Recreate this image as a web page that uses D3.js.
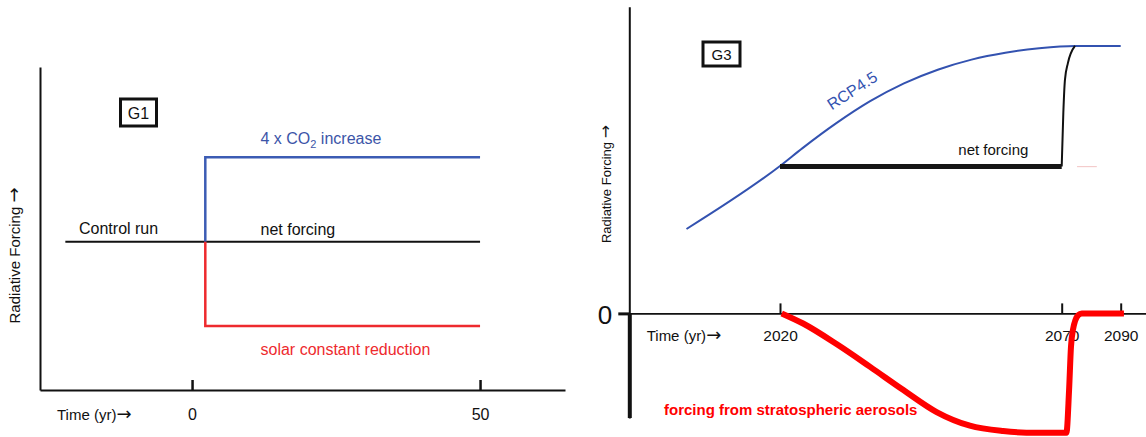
<!DOCTYPE html>
<html><head><meta charset="utf-8">
<script src="https://cdn.jsdelivr.net/npm/d3@7"></script>
<style>
body{margin:0;background:#fff}
svg{display:block;background:#fff}
text{font-family:"Liberation Sans",Arial,Helvetica,sans-serif}
.arr{font-family:"DejaVu Sans",sans-serif}
</style>
</head><body>
<svg id="c" width="1146" height="437"></svg>
<script>
// ---------- Panel G1 (schematic, arbitrary units) ----------
const g1Ticks = [0, 50];
const g1TickLabels = ["0", "50"];
const g1ControlYears = [-22, 50];
const g1ControlValues = [0, 0];
const g1Co2Years = [2.3, 2.3, 50];
const g1Co2Values = [0, 1, 1];
const g1SolarYears = [2.3, 2.3, 50];
const g1SolarValues = [0, -1, -1];

// ---------- Panel G3 (forcing, W/m2 approx.) ----------
const g3Ticks = [2020, 2070, 2090];
const g3TickLabels = ["2020", "2070", "2090"];
const rcpYears  = [2003.4, 2020, 2024, 2030, 2036, 2042, 2048, 2054, 2060,  2066, 2074.5, 2090];
const rcpValues = [1.42,   2.48, 2.78, 3.2,  3.57, 3.87, 4.1,  4.27, 4.385, 4.46, 4.5,    4.5];
const netYears  = [2020, 2070];
const netValues = [2.47, 2.47];
const reboundYears  = [2070, 2070.55, 2071.1, 2072.1, 2074.5];
const reboundValues = [2.47, 3.37,    3.93,   4.21,   4.5];
const faintYears  = [2075.2, 2081.9];
const faintValues = [2.47, 2.47];
const aerosolYears  = [2020.3, 2024.1, 2030.1, 2036, 2041.9, 2047.8, 2053.7, 2059.6, 2065.6, 2071.6, 2072.5, 2073.15, 2073.8, 2075.6, 2076.8, 2091.1];
const aerosolValues = [0,      -0.17,  -0.52,  -0.9, -1.29,  -1.66,  -1.89,  -1.98,  -2.01,  -2.01,  -1.29,  -0.56,   -0.28,  -0.03,  0,      0];

const zip = (xs, ys) => xs.map((x, i) => [x, ys[i]]);

const svg = d3.select("#c");

function arrowText(sel, label, arrowSize) {
  sel.append("tspan").text(label);
  const a = sel.append("tspan").attr("class", "arr").text("\u2192");
  if (arrowSize) a.attr("font-size", arrowSize);
}

// ===================== G1 =====================
const xL = d3.scaleLinear().domain([-26.4, 64.75]).range([40, 565]);
const yL = d3.scaleLinear().domain([-1.757, 2.07]).range([390, 67]);
const lineL = d3.line().x(d => xL(d[0])).y(d => yL(d[1]));

const gL = svg.append("g");

// x axis
const axL = gL.append("g").attr("transform", `translate(0,${yL.range()[0]})`)
  .call(d3.axisBottom(xL).tickValues(g1Ticks).tickFormat((d, i) => g1TickLabels[i])
    .tickSizeInner(-10).tickSizeOuter(0).tickPadding(18.6));
axL.attr("font-family", null).attr("font-size", null);
axL.select(".domain").attr("stroke", "#111").attr("stroke-width", 2);
axL.selectAll(".tick line").attr("stroke", "#111").attr("stroke-width", 2.5);
axL.selectAll(".tick text").attr("font-size", 16).attr("fill", "#111");

// y axis
const ayL = gL.append("g").attr("transform", `translate(${xL.range()[0]},0)`)
  .call(d3.axisLeft(yL).tickValues([]).tickSizeOuter(0));
ayL.select(".domain").attr("stroke", "#111").attr("stroke-width", 2);

// lines
gL.append("path").datum(zip(g1ControlYears, g1ControlValues)).attr("d", lineL)
  .attr("fill", "none").attr("stroke", "#111").attr("stroke-width", 2);
gL.append("path").datum(zip(g1Co2Years, g1Co2Values)).attr("d", lineL)
  .attr("fill", "none").attr("stroke", "#3c5cb4").attr("stroke-width", 2.5);
gL.append("path").datum(zip(g1SolarYears, g1SolarValues)).attr("d", lineL)
  .attr("fill", "none").attr("stroke", "#ee2a2e").attr("stroke-width", 2.5);

// labels
gL.append("rect").attr("x", 120.5).attr("y", 99).attr("width", 36).attr("height", 27)
  .attr("fill", "#fff").attr("stroke", "#111").attr("stroke-width", 3);
gL.append("text").attr("x", 138.5).attr("y", 118.5).attr("text-anchor", "middle")
  .attr("font-size", 16).attr("fill", "#111").text("G1");

const co2t = gL.append("text").attr("x", 260.5).attr("y", 143.5).attr("font-size", 16).attr("fill", "#3c55a8");
co2t.append("tspan").text("4 x CO");
co2t.append("tspan").attr("font-size", 11).attr("dy", 4).text("2");
co2t.append("tspan").attr("dy", -4).text(" increase");

gL.append("text").attr("x", 79).attr("y", 234).attr("font-size", 16).attr("fill", "#111").text("Control run");
gL.append("text").attr("x", 260.5).attr("y", 235).attr("font-size", 16).attr("fill", "#111").text("net forcing");
gL.append("text").attr("x", 260.5).attr("y", 354.5).attr("font-size", 16).attr("fill", "#ee2a2e").text("solar constant reduction");
gL.append("text").attr("x", 57).attr("y", 420).attr("font-size", 15).attr("fill", "#111")
  .call(arrowText, "Time (yr)", 18);
gL.append("text").attr("transform", "translate(20,255.5) rotate(-90)").attr("text-anchor", "middle")
  .attr("font-size", 15).attr("fill", "#111").call(arrowText, "Radiative Forcing ", 18);

// ===================== G3 =====================
const xR = d3.scaleLinear().domain([1993.25, 2020, 2070, 2090, 2098.6]).range([629.3, 780, 1061.7, 1120.7, 1146]);
const yR = d3.scaleLinear().domain([-1.76, 5.16]).range([418, 6.7]);
const lineR = d3.line().x(d => xR(d[0])).y(d => yR(d[1]));
const curveR = d3.line().x(d => xR(d[0])).y(d => yR(d[1])).curve(d3.curveMonotoneX);

const gR = svg.append("g");

// x axis at zero
const axR = gR.append("g").attr("transform", `translate(0,${yR(0)})`)
  .call(d3.axisBottom(xR).tickValues(g3Ticks).tickFormat((d, i) => g3TickLabels[i])
    .tickSizeInner(-10).tickSizeOuter(0).tickPadding(16.7));
axR.attr("font-family", null).attr("font-size", null);
axR.select(".domain").attr("stroke", "#111").attr("stroke-width", 1.6);
axR.selectAll(".tick line").attr("stroke", "#111").attr("stroke-width", 2);
axR.selectAll(".tick text").attr("font-size", 15.5).attr("fill", "#111");

// y axis
const x0R = xR.range()[0];
const ayR = gR.append("g").attr("transform", `translate(${x0R},0)`)
  .call(d3.axisLeft(yR).tickValues([0]).tickFormat(() => "0").tickSizeInner(11).tickSizeOuter(0).tickPadding(6));
ayR.attr("font-family", null).attr("font-size", null);
ayR.select(".domain").attr("stroke", "#111").attr("stroke-width", 2);
ayR.selectAll(".tick line").attr("stroke", "#111").attr("stroke-width", 3);
ayR.selectAll(".tick text").attr("font-size", 26).attr("fill", "#111").attr("dy", "0.4em");
// thick lower part of y axis
gR.append("line").attr("x1", x0R + 0.5).attr("x2", x0R + 0.5)
  .attr("y1", yR(0)).attr("y2", yR(yR.domain()[0]))
  .attr("stroke", "#111").attr("stroke-width", 4);

// series
gR.append("path").datum(zip(rcpYears, rcpValues)).attr("d", curveR)
  .attr("fill", "none").attr("stroke", "#3352b0").attr("stroke-width", 2);
gR.append("path").datum(zip(reboundYears, reboundValues)).attr("d", curveR)
  .attr("fill", "none").attr("stroke", "#111").attr("stroke-width", 2);
gR.append("path").datum(zip(netYears, netValues)).attr("d", lineR)
  .attr("fill", "none").attr("stroke", "#151515").attr("stroke-width", 5);
gR.append("path").datum(zip(faintYears, faintValues)).attr("d", lineR)
  .attr("fill", "none").attr("stroke", "#f4cccc").attr("stroke-width", 1.2);

// labels (drawn before red curve so the curve overlaps "2070")
gR.append("rect").attr("x", 703).attr("y", 42).attr("width", 37).attr("height", 24)
  .attr("fill", "#fff").attr("stroke", "#111").attr("stroke-width", 3);
gR.append("text").attr("x", 721.5).attr("y", 59.5).attr("text-anchor", "middle")
  .attr("font-size", 15).attr("fill", "#111").text("G3");
gR.append("text").attr("transform", "translate(831.7,110.5) rotate(-33)")
  .attr("font-size", 16).attr("fill", "#3352b0").text("RCP4.5");
gR.append("text").attr("x", 958.3).attr("y", 155).attr("font-size", 15).attr("fill", "#111").text("net forcing");
gR.append("text").attr("x", 646.7).attr("y", 341).attr("font-size", 15).attr("fill", "#111")
  .call(arrowText, "Time (yr)", 18);
gR.append("text").attr("x", 664).attr("y", 415).attr("font-size", 15).attr("font-weight", "bold")
  .attr("fill", "#ff0000").text("forcing from stratospheric aerosols");
gR.append("text").attr("transform", "translate(611,184) rotate(-90)").attr("text-anchor", "middle")
  .attr("font-size", 13).attr("fill", "#111").call(arrowText, "Radiative Forcing ", 16);

// aerosol forcing (thick red)
gR.append("path").datum(zip(aerosolYears, aerosolValues)).attr("d", curveR)
  .attr("fill", "none").attr("stroke", "#ff0000").attr("stroke-width", 6)
  .attr("stroke-linejoin", "round").attr("stroke-linecap", "butt");
</script>
</body></html>
